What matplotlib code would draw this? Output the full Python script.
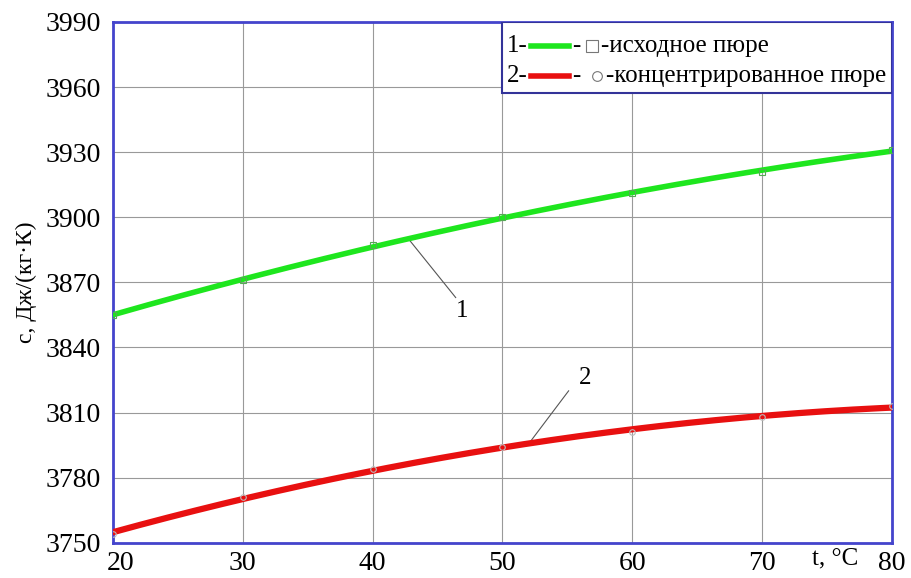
import numpy as np
import matplotlib.pyplot as plt
import matplotlib.transforms as mtransforms
from matplotlib.patches import Rectangle
from matplotlib.lines import Line2D

t = [20, 30, 40, 50, 60, 70, 80]
c_initial = [3855, 3871, 3887, 3900, 3911, 3921, 3931]
c_conc = [3754, 3771, 3784, 3794, 3801, 3808, 3813]
yticks = [3750, 3780, 3810, 3840, 3870, 3900, 3930, 3960, 3990]

plt.rcParams['font.family'] = ['Liberation Serif', 'DejaVu Serif']

fig = plt.figure(figsize=(9.11, 5.78), dpi=100)
ax = fig.add_axes([0.124, 0.061, 0.855, 0.901])

# smooth curves through the read points
ts = np.linspace(20, 80, 200)
p1 = np.polyfit(t, c_initial, 2)
p2 = np.polyfit(t, c_conc, 2)
ax.plot(ts, np.polyval(p1, ts), color='#1ee61e', lw=4, zorder=3)
ax.plot(ts, np.polyval(p2, ts), color='#e81010', lw=4.5, zorder=3)
ax.plot(t, c_initial, 's', ms=4, mfc='none', mec='#55aa55', mew=0.8, zorder=4)
ax.plot(t, c_conc, 'o', ms=4, mfc='none', mec='#bbbbbb', mew=0.8, zorder=4)

ax.set_xlim(20, 80)
ax.set_ylim(3750, 3990)
ax.set_xticks(t)
ax.set_yticks(yticks)
ax.grid(True, color='#999999', lw=0.8)
ax.tick_params(length=0, labelsize=20)
ax.tick_params(axis='y', pad=9)
ax.tick_params(axis='x', pad=6)
# nudge the first x label right so it clears 3750
lbl = ax.get_xticklabels()[0]
lbl.set_transform(lbl.get_transform() + mtransforms.ScaledTranslation(0.08, 0, fig.dpi_scale_trans))
for s in ax.spines.values():
    s.set_color('#4444cc')
    s.set_linewidth(2)

ax.set_ylabel('c, Дж/(кг·К)', fontsize=17, labelpad=6)
ax.text(75.6, -0.03, 't, °C', transform=ax.get_xaxis_transform(),
        fontsize=18, ha='center', va='center')

# curve labels with leader lines
ax.plot([42.7, 46.4], [3890.5, 3863], color='#555555', lw=0.8)
ax.text(46.9, 3857, '1', fontsize=18, ha='center', va='center')
ax.plot([52.2, 55.1], [3797, 3820], color='#555555', lw=0.8)
ax.text(56.4, 3826, '2', fontsize=18, ha='center', va='center')

# legend box
ax.add_patch(Rectangle((0.5, 0.864), 0.5, 0.136, transform=ax.transAxes,
                       fill=True, fc='white', ec='#333399', lw=1.5, zorder=5))
rows = [(0.953, '1-', '#1ee61e', 's', 0.615, '-исходное пюре'),
        (0.897, '2-', '#e81010', 'o', 0.622, '-концентрированное пюре')]
for y, num, col, mk, mx, lab in rows:
    ax.text(0.506, y, num, transform=ax.transAxes, fontsize=18, va='center', zorder=6)
    ax.add_line(Line2D([0.537, 0.585], [y, y], transform=ax.transAxes,
                       color=col, lw=4, zorder=6))
    ax.text(0.59, y, '-', transform=ax.transAxes, fontsize=18, va='center', zorder=6)
    ax.add_line(Line2D([mx], [y], transform=ax.transAxes, marker=mk, ms=9 if mk == 's' else 7,
                       mfc='white', mec='#777777', mew=0.8, zorder=6))
    ax.text(mx + 0.011, y, lab, transform=ax.transAxes, fontsize=18, va='center', zorder=6)

fig.savefig('out.png', dpi=100)
